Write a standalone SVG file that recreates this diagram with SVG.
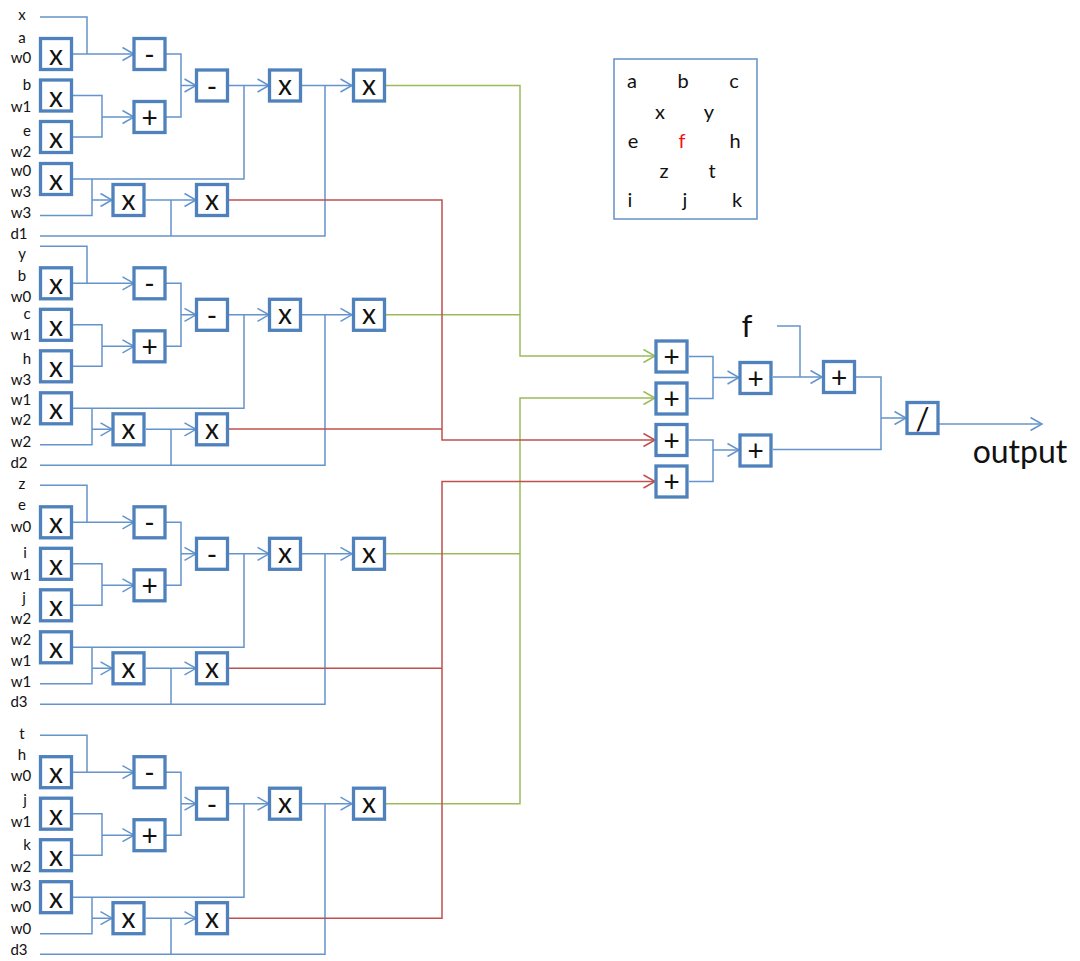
<svg xmlns="http://www.w3.org/2000/svg" width="1080" height="961" viewBox="0 0 1080 961">
<style>
text{font-family:"Lato","Open Sans","Liberation Sans",sans-serif;fill:#111}
.l{font-size:15px;text-anchor:middle}
.t{font-size:20px;text-anchor:middle}
.o{font-size:28px;text-anchor:middle}
.b{fill:#fff;stroke:#4f81bd;stroke-width:3.3}
.c{fill:none;stroke:#6494cc;stroke-width:1.5}
.g{fill:none;stroke:#9bbb59;stroke-width:1.5}
.r{fill:none;stroke:#c0504d;stroke-width:1.5}
</style>
<defs>
<marker id="ab" markerUnits="userSpaceOnUse" markerWidth="14" markerHeight="16" refX="12.500" refY="8" orient="auto"><path d="M1 1.500L12.500 8L1 14.500" fill="none" stroke="#6494cc" stroke-width="1.500"/></marker>
<marker id="ag" markerUnits="userSpaceOnUse" markerWidth="14" markerHeight="16" refX="12.500" refY="8" orient="auto"><path d="M1 1.500L12.500 8L1 14.500" fill="none" stroke="#9bbb59" stroke-width="1.500"/></marker>
<marker id="ar" markerUnits="userSpaceOnUse" markerWidth="14" markerHeight="16" refX="12.500" refY="8" orient="auto"><path d="M1 1.500L12.500 8L1 14.500" fill="none" stroke="#c0504d" stroke-width="1.500"/></marker>
<rect id="n" x="-15.500" y="-15.500" width="31" height="31" class="b"/>
</defs>
<g id="connectors">
<g id="c1" transform="translate(0,0)">
<path class="c" d="M40 17H87V54M73 54H134" marker-end="url(#ab)"/>
<path class="c" d="M73 95.500H102V137H73M102 117H134" marker-end="url(#ab)"/>
<path class="c" d="M166 54H181V117H166M181 85.500H196" marker-end="url(#ab)"/>
<path class="c" d="M229 85.500H269" marker-end="url(#ab)"/>
<path class="c" d="M302 85.500H352" marker-end="url(#ab)"/>
<path class="c" d="M73 179H244V85.500"/>
<path class="c" d="M40 215.500H92V179M92 200H112" marker-end="url(#ab)"/>
<path class="c" d="M146 200H196" marker-end="url(#ab)"/>
<path class="c" d="M40 236H325V85.500M171 236V200"/>
</g>
<g id="c2" transform="translate(0,229.300)">
<path class="c" d="M40 17H87V54M73 54H134" marker-end="url(#ab)"/>
<path class="c" d="M73 95.500H102V137H73M102 117H134" marker-end="url(#ab)"/>
<path class="c" d="M166 54H181V117H166M181 85.500H196" marker-end="url(#ab)"/>
<path class="c" d="M229 85.500H269" marker-end="url(#ab)"/>
<path class="c" d="M302 85.500H352" marker-end="url(#ab)"/>
<path class="c" d="M73 179H244V85.500"/>
<path class="c" d="M40 215.500H92V179M92 200H112" marker-end="url(#ab)"/>
<path class="c" d="M146 200H196" marker-end="url(#ab)"/>
<path class="c" d="M40 236H325V85.500M171 236V200"/>
</g>
<g id="c3" transform="translate(0,468.300)">
<path class="c" d="M40 17H87V54M73 54H134" marker-end="url(#ab)"/>
<path class="c" d="M73 95.500H102V137H73M102 117H134" marker-end="url(#ab)"/>
<path class="c" d="M166 54H181V117H166M181 85.500H196" marker-end="url(#ab)"/>
<path class="c" d="M229 85.500H269" marker-end="url(#ab)"/>
<path class="c" d="M302 85.500H352" marker-end="url(#ab)"/>
<path class="c" d="M73 179H244V85.500"/>
<path class="c" d="M40 215.500H92V179M92 200H112" marker-end="url(#ab)"/>
<path class="c" d="M146 200H196" marker-end="url(#ab)"/>
<path class="c" d="M40 236H325V85.500M171 236V200"/>
</g>
<g id="c4" transform="translate(0,718.200)">
<path class="c" d="M40 17H87V54M73 54H134" marker-end="url(#ab)"/>
<path class="c" d="M73 95.500H102V137H73M102 117H134" marker-end="url(#ab)"/>
<path class="c" d="M166 54H181V117H166M181 85.500H196" marker-end="url(#ab)"/>
<path class="c" d="M229 85.500H269" marker-end="url(#ab)"/>
<path class="c" d="M302 85.500H352" marker-end="url(#ab)"/>
<path class="c" d="M73 179H244V85.500"/>
<path class="c" d="M40 215.500H92V179M92 200H112" marker-end="url(#ab)"/>
<path class="c" d="M146 200H196" marker-end="url(#ab)"/>
<path class="c" d="M40 236H325V85.500M171 236V200"/>
</g>
<path class="g" d="M386 85.500H520V356H655" marker-end="url(#ag)"/>
<path class="g" d="M386 314.800H520"/>
<path class="g" d="M386 553.800H520"/>
<path class="g" d="M386 803.700H520V398H655" marker-end="url(#ag)"/>
<path class="r" d="M229 200H442V440H655" marker-end="url(#ar)"/>
<path class="r" d="M229 429H442"/>
<path class="r" d="M229 668.300H442"/>
<path class="r" d="M229 918.200H442V481.500H655" marker-end="url(#ar)"/>
<path class="c" d="M689 356.500H713V398.500H689M713 377.500H739" marker-end="url(#ab)"/>
<path class="c" d="M689 440H713V481.500H689M713 450H739" marker-end="url(#ab)"/>
<path class="c" d="M773 377H822" marker-end="url(#ab)"/>
<path class="c" d="M777 326H800V377"/>
<path class="c" d="M856 377H881V449.500H773M881 418H906" marker-end="url(#ab)"/>
<path class="c" d="M939 424H1042" marker-end="url(#ab)"/>
</g>
<g id="block1" transform="translate(0,0)">
<text class="l" x="22" y="20">x</text><text class="l" x="22" y="43">a</text><text class="l" x="21" y="63">w0</text><text class="l" x="27" y="90">b</text><text class="l" x="21" y="112">w1</text><text class="l" x="27" y="136">e</text><text class="l" x="21" y="157">w2</text><text class="l" x="21" y="176">w0</text><text class="l" x="21" y="197">w3</text><text class="l" x="21" y="218">w3</text><text class="l" x="19" y="239">d1</text>
<g id="b1n1" transform="translate(56,54)"><use href="#n"/><text class="o" y="11">x</text></g>
<g id="b1n2" transform="translate(56,95.500)"><use href="#n"/><text class="o" y="11">x</text></g>
<g id="b1n3" transform="translate(56,137)"><use href="#n"/><text class="o" y="11">x</text></g>
<g id="b1n4" transform="translate(56,179)"><use href="#n"/><text class="o" y="11">x</text></g>
<g id="b1n5" transform="translate(149.500,54)"><use href="#n"/><text class="o" y="11">-</text></g>
<g id="b1n6" transform="translate(149.500,117)"><use href="#n"/><text class="o" y="10.500">+</text></g>
<g id="b1n7" transform="translate(212,85.500)"><use href="#n"/><text class="o" y="11">-</text></g>
<g id="b1n8" transform="translate(285,85.500)"><use href="#n"/><text class="o" y="9.500">x</text></g>
<g id="b1n9" transform="translate(369,85.500)"><use href="#n"/><text class="o" y="9.500">x</text></g>
<g id="b1n10" transform="translate(128.500,200)"><use href="#n"/><text class="o" y="10">x</text></g>
<g id="b1n11" transform="translate(212,200)"><use href="#n"/><text class="o" y="10">x</text></g>
</g>
<g id="block2" transform="translate(0,229.300)">
<text class="l" x="22" y="30">y</text><text class="l" x="22" y="52">b</text><text class="l" x="21" y="73">w0</text><text class="l" x="27" y="90">c</text><text class="l" x="21" y="111">w1</text><text class="l" x="27" y="135">h</text><text class="l" x="21" y="156">w3</text><text class="l" x="21" y="176">w1</text><text class="l" x="21" y="196">w2</text><text class="l" x="21" y="218">w2</text><text class="l" x="19" y="239">d2</text>
<g id="b2n1" transform="translate(56,54)"><use href="#n"/><text class="o" y="11">x</text></g>
<g id="b2n2" transform="translate(56,95.500)"><use href="#n"/><text class="o" y="11">x</text></g>
<g id="b2n3" transform="translate(56,137)"><use href="#n"/><text class="o" y="11">x</text></g>
<g id="b2n4" transform="translate(56,179)"><use href="#n"/><text class="o" y="11">x</text></g>
<g id="b2n5" transform="translate(149.500,54)"><use href="#n"/><text class="o" y="11">-</text></g>
<g id="b2n6" transform="translate(149.500,117)"><use href="#n"/><text class="o" y="10.500">+</text></g>
<g id="b2n7" transform="translate(212,85.500)"><use href="#n"/><text class="o" y="11">-</text></g>
<g id="b2n8" transform="translate(285,85.500)"><use href="#n"/><text class="o" y="9.500">x</text></g>
<g id="b2n9" transform="translate(369,85.500)"><use href="#n"/><text class="o" y="9.500">x</text></g>
<g id="b2n10" transform="translate(128.500,200)"><use href="#n"/><text class="o" y="10">x</text></g>
<g id="b2n11" transform="translate(212,200)"><use href="#n"/><text class="o" y="10">x</text></g>
</g>
<g id="block3" transform="translate(0,468.300)">
<text class="l" x="22" y="21">z</text><text class="l" x="22" y="42">e</text><text class="l" x="21" y="63.500">w0</text><text class="l" x="25" y="90">i</text><text class="l" x="21" y="112">w1</text><text class="l" x="24" y="135">j</text><text class="l" x="21" y="156">w2</text><text class="l" x="21" y="177">w2</text><text class="l" x="21" y="198">w1</text><text class="l" x="21" y="219">w1</text><text class="l" x="19" y="239">d3</text>
<g id="b3n1" transform="translate(56,54)"><use href="#n"/><text class="o" y="11">x</text></g>
<g id="b3n2" transform="translate(56,95.500)"><use href="#n"/><text class="o" y="11">x</text></g>
<g id="b3n3" transform="translate(56,137)"><use href="#n"/><text class="o" y="11">x</text></g>
<g id="b3n4" transform="translate(56,179)"><use href="#n"/><text class="o" y="11">x</text></g>
<g id="b3n5" transform="translate(149.500,54)"><use href="#n"/><text class="o" y="11">-</text></g>
<g id="b3n6" transform="translate(149.500,117)"><use href="#n"/><text class="o" y="10.500">+</text></g>
<g id="b3n7" transform="translate(212,85.500)"><use href="#n"/><text class="o" y="11">-</text></g>
<g id="b3n8" transform="translate(285,85.500)"><use href="#n"/><text class="o" y="9.500">x</text></g>
<g id="b3n9" transform="translate(369,85.500)"><use href="#n"/><text class="o" y="9.500">x</text></g>
<g id="b3n10" transform="translate(128.500,200)"><use href="#n"/><text class="o" y="10">x</text></g>
<g id="b3n11" transform="translate(212,200)"><use href="#n"/><text class="o" y="10">x</text></g>
</g>
<g id="block4" transform="translate(0,718.200)">
<text class="l" x="22" y="20.500">t</text><text class="l" x="22" y="41.500">h</text><text class="l" x="21" y="63">w0</text><text class="l" x="25" y="87">j</text><text class="l" x="21" y="108.500">w1</text><text class="l" x="27" y="132">k</text><text class="l" x="21" y="153.500">w2</text><text class="l" x="21" y="173">w3</text><text class="l" x="21" y="194">w0</text><text class="l" x="21" y="215.500">w0</text><text class="l" x="19" y="236.500">d3</text>
<g id="b4n1" transform="translate(56,54)"><use href="#n"/><text class="o" y="11">x</text></g>
<g id="b4n2" transform="translate(56,95.500)"><use href="#n"/><text class="o" y="11">x</text></g>
<g id="b4n3" transform="translate(56,137)"><use href="#n"/><text class="o" y="11">x</text></g>
<g id="b4n4" transform="translate(56,179)"><use href="#n"/><text class="o" y="11">x</text></g>
<g id="b4n5" transform="translate(149.500,54)"><use href="#n"/><text class="o" y="11">-</text></g>
<g id="b4n6" transform="translate(149.500,117)"><use href="#n"/><text class="o" y="10.500">+</text></g>
<g id="b4n7" transform="translate(212,85.500)"><use href="#n"/><text class="o" y="11">-</text></g>
<g id="b4n8" transform="translate(285,85.500)"><use href="#n"/><text class="o" y="9.500">x</text></g>
<g id="b4n9" transform="translate(369,85.500)"><use href="#n"/><text class="o" y="9.500">x</text></g>
<g id="b4n10" transform="translate(128.500,200)"><use href="#n"/><text class="o" y="10">x</text></g>
<g id="b4n11" transform="translate(212,200)"><use href="#n"/><text class="o" y="10">x</text></g>
</g>
<g id="sum1" transform="translate(671.500,356.500)"><use href="#n"/><text class="o" y="10.500">+</text></g>
<g id="sum2" transform="translate(671.500,398.500)"><use href="#n"/><text class="o" y="10.500">+</text></g>
<g id="sum3" transform="translate(671.500,440)"><use href="#n"/><text class="o" y="10.500">+</text></g>
<g id="sum4" transform="translate(671.500,481.500)"><use href="#n"/><text class="o" y="10.500">+</text></g>
<g id="sum5" transform="translate(755.500,378)"><use href="#n"/><text class="o" y="10.500">+</text></g>
<g id="sum6" transform="translate(755.500,450.500)"><use href="#n"/><text class="o" y="10.500">+</text></g>
<g id="sum7" transform="translate(839,377)"><use href="#n"/><text class="o" y="10.500">+</text></g>
<g id="div" transform="translate(922.500,418)"><use href="#n"/><text class="o" y="12" style="font-size:31px">/</text></g>
<text x="747" y="337" font-size="31" text-anchor="middle">f</text>
<text x="1020" y="463" font-size="32" text-anchor="middle">output</text>
<g id="legend">
<rect x="614" y="59" width="143" height="160" fill="#fff" stroke="#6d97c9" stroke-width="1.6"/>
<text class="t" x="632" y="88">a</text><text class="t" x="683" y="88">b</text><text class="t" x="734" y="88">c</text>
<text class="t" x="660" y="119">x</text><text class="t" x="709" y="119">y</text>
<text class="t" x="633" y="148">e</text><text class="t" x="682" y="148" style="fill:#f01414">f</text><text class="t" x="735" y="148">h</text>
<text class="t" x="664" y="178">z</text><text class="t" x="712" y="178">t</text>
<text class="t" x="630" y="207">i</text><text class="t" x="685" y="207">j</text><text class="t" x="737" y="207">k</text>
</g>
</svg>
